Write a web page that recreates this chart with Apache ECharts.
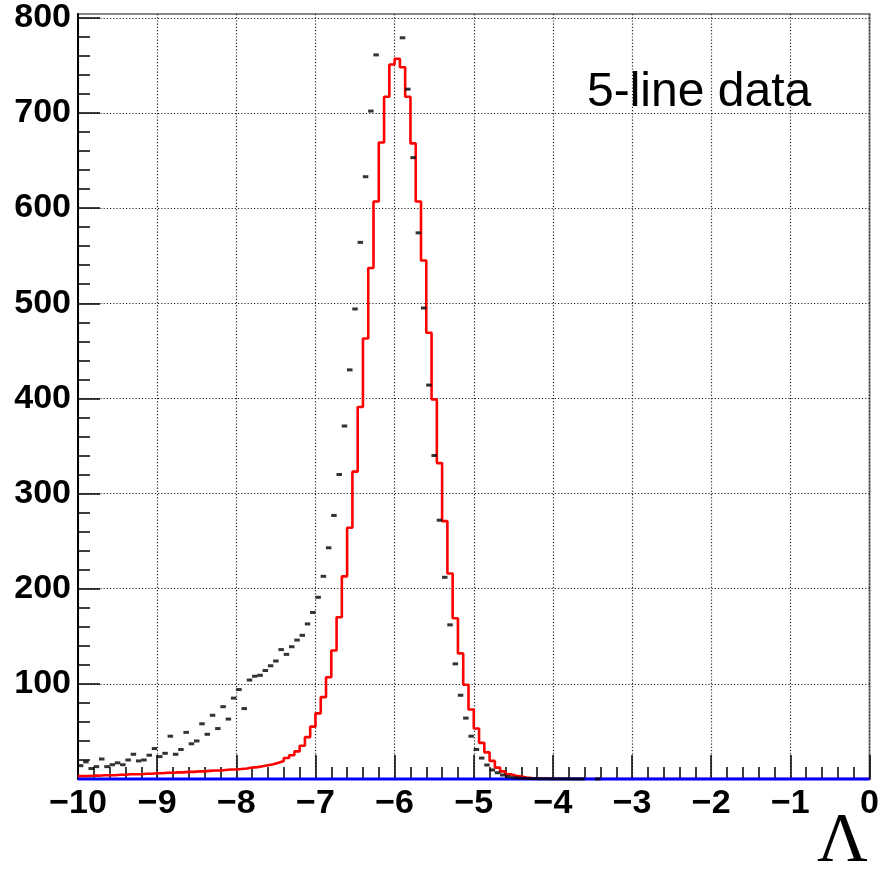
<!DOCTYPE html>
<html><head><meta charset="utf-8">
<script src="https://cdn.jsdelivr.net/npm/echarts@6/dist/echarts.min.js"></script>
<style>html,body{margin:0;padding:0;background:#fff}#c{width:882px;height:869px}</style>
</head><body><div id="c"></div>
<script>
// ---- data ----
const xMin = -10, xMax = 0, nBins = 150;
const yMax = 804;
const xTickValues = [-10,-9,-8,-7,-6,-5,-4,-3,-2,-1,0];
const yMajorTicks = [0,100,200,300,400,500,600,700,800];
const yLabelValues = [100,200,300,400,500,600,700,800];
const yMinorTicks = [0,20,40,60,80,100,120,140,160,180,200,220,240,260,280,300,320,340,360,380,400,420,440,460,480,500,520,540,560,580,600,620,640,660,680,700,720,740,760,780,800];

// red histogram (simulation), one value per bin
const redCounts = [
 3,3,3.5,3.5,4,4,4,4.5,4.5,5,
 5,5,5.5,5.5,6,6,6.5,6.5,7,7,
 7.5,7.5,8,8,8.5,9,9,9.5,10,10,
 10.5,11,12,12.5,13.5,14.5,15.5,17,19,22,
 25,29,35,44,55,69,86,107,135,170,
 213,264,323,391,463,537,607,669,717,751,
 757,748,717,668,607,545,469,399,332,271,
 216,169,132,99,73,53,38,28,19,12,
 8,5,3.5,2.5,1.5,1,0.7,0.5,0.3,0.2,
 0,0,0,0,0,0,0,0,0,0,
 0,0,0,0,0,0,0,0,0,0,
 0,0,0,0,0,0,0,0,0,0,
 0,0,0,0,0,0,0,0,0,0,
 0,0,0,0,0,0,0,0,0,0,
 0,0,0,0,0,0,0,0,0,0
];
// black markers (data), one value per bin (null = empty bin)
const blackCounts = [
 14,18,11,13,21,13,15,17,15,20,
 26,19,20,25,32,23.5,27,45,26,31,
 49,37,40,58,47,67,53,76,63,85,
 94,74,104,108,109,114,119,124,136,131,
 139,146,151,163,175,191,213,243,277,320,
 371,430,494,564,633,702,761,815,840,835,
 815,779,725,653,574,495,414,340,272,212,
 162,121,88,64,45,31,22,14.7,9.5,6.6,
 4.2,2.5,1.5,1,0.7,0.5,0.4,0.3,0.3,0.2,
 0.2,0.2,0.2,0.1,0.1,0.1,null,null,0.1,null,
 null,null,null,null,null,null,null,null,null,null,
 null,null,null,null,null,null,null,null,null,null,
 null,null,null,null,null,null,null,null,null,null,
 null,null,null,null,null,null,null,null,null,null,
 null,null,null,null,null,null,null,null,null,null
];
// blue reference line level at the two x ends
const blueLevel = [0, 0];

// ---- build series data ----
const binW = (xMax - xMin) / nBins;
const redData = redCounts.map((v, k) => [xMin + k * binW, v]);
redData.push([xMax, redCounts[nBins - 1]]);
const blackData = [];
blackCounts.forEach((v, k) => { if (v !== null) blackData.push([xMin + (k + 0.5) * binW, v]); });
const blueData = [[xMin, blueLevel[0]], [xMax, blueLevel[1]]];

const labelFont = { fontFamily: 'Liberation Sans', fontWeight: 'bold', fontSize: 34, color: '#000' };
const gridRect = { left: 78, right: 9, top: 14, bottom: 90 };
const gridLineStyle = { color: '#222', width: 1.2, type: [1.2, 2] };

const chart = echarts.init(document.getElementById('c'), null, { renderer: 'canvas' });
chart.setOption({
  animation: false,
  backgroundColor: '#fff',
  grid: [
    Object.assign({ show: true, borderColor: '#888', borderWidth: 2, containLabel: false }, gridRect),
    Object.assign({ show: false, containLabel: false }, gridRect)
  ],
  xAxis: [{
    type: 'value', gridIndex: 0, position: 'bottom', min: xMin, max: xMax, interval: 1,
    axisLine: { show: true, onZero: false, lineStyle: { color: '#000', width: 2 } },
    axisTick: { show: true, inside: true, length: 24, lineStyle: { color: '#000', width: 1.5 } },
    minorTick: { show: true, splitNumber: 5, length: 12, lineStyle: { color: '#000', width: 1.5 } },
    axisLabel: Object.assign({ margin: 8, formatter: v => String(v).replace('-', '\u2212') }, labelFont),
    splitLine: { show: true, lineStyle: gridLineStyle }
  }, {
    type: 'value', gridIndex: 1, position: 'bottom', min: xMin, max: xMax, show: false,
    axisLine: { onZero: false }
  }],
  yAxis: [{
    type: 'value', gridIndex: 0, position: 'left', min: 0, max: yMax, interval: 100,
    axisLine: { show: true, onZero: false, lineStyle: { color: '#000', width: 2 } },
    axisTick: { show: true, inside: true, length: 22, customValues: yMajorTicks, lineStyle: { color: '#000', width: 1.5 } },
    axisLabel: Object.assign({ margin: 7, customValues: yLabelValues,
      formatter: v => (v > 0 && v % 100 === 0) ? String(v) : '' }, labelFont),
    splitLine: { show: true, lineStyle: gridLineStyle }
  }, {
    type: 'value', gridIndex: 1, position: 'left', min: 0, max: yMax, interval: 20,
    axisLine: { show: false, onZero: false },
    axisTick: { show: true, inside: true, length: 12, customValues: yMinorTicks, lineStyle: { color: '#000', width: 1.5 } },
    axisLabel: { show: false },
    splitLine: { show: false }
  }],
  series: [{
    name: 'simulation', type: 'line', xAxisIndex: 0, yAxisIndex: 0,
    data: redData, step: 'end', showSymbol: false, symbol: 'none', clip: true, z: 2,
    lineStyle: { color: '#ff0000', width: 2.6 }
  }, {
    name: 'baseline', type: 'line', xAxisIndex: 0, yAxisIndex: 0,
    data: blueData, showSymbol: false, symbol: 'none', clip: false, z: 3,
    lineStyle: { color: '#0000ff', width: 3 }
  }, {
    name: 'data', type: 'scatter', xAxisIndex: 0, yAxisIndex: 0,
    data: blackData, symbol: 'rect', symbolSize: [5.5, 3], clip: true, z: 4,
    itemStyle: { color: '#000' }
  }],
  graphic: [{
    type: 'text', left: 587, top: 69,
    style: { text: '5-line data', fontFamily: 'Liberation Sans', fontSize: 48, fill: '#000' }
  }, {
    type: 'text', left: 817, top: 808,
    style: { text: '\u039B', fontFamily: 'Liberation Serif', fontSize: 70, fill: '#000' }
  }]
});
</script></body></html>
